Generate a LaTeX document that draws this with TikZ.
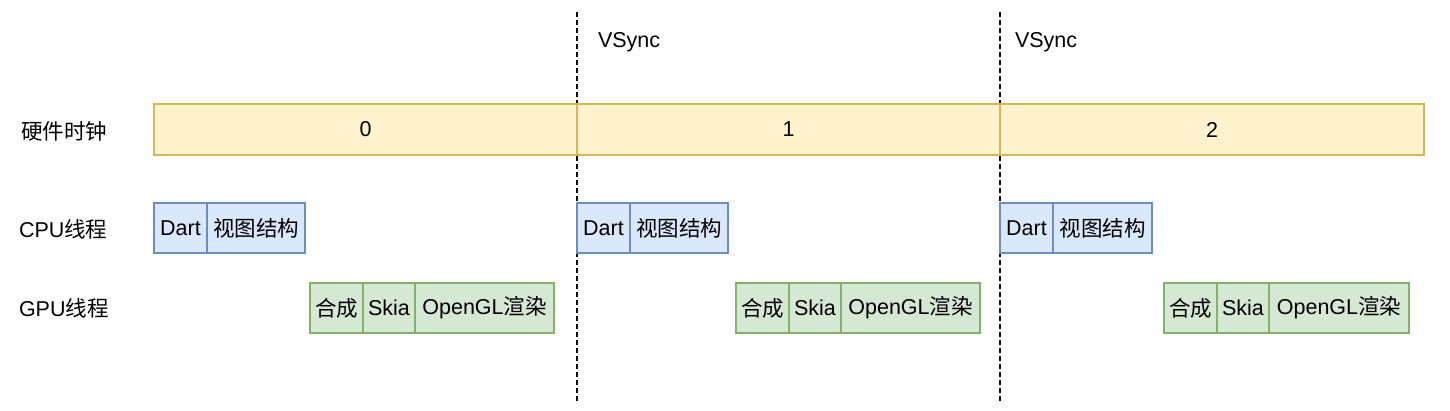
\documentclass[tikz,border=0pt]{standalone}
\usepackage{fontspec}
\setmainfont{Liberation Sans}
\newfontfamily\cjk{Noto Sans CJK SC}
\definecolor{yfill}{HTML}{FFF2CC}
\definecolor{ydraw}{HTML}{D6B656}
\definecolor{bfill}{HTML}{DAE8FC}
\definecolor{bdraw}{HTML}{6C8EBF}
\definecolor{gfill}{HTML}{D5E8D4}
\definecolor{gdraw}{HTML}{82B366}
\begin{document}
\begin{tikzpicture}[x=1pt,y=-1pt,
  every node/.style={font=\fontsize{21.5}{24}\selectfont, inner sep=0pt, outer sep=0pt},
  cell/.style={draw, line width=1.5pt, anchor=north west},
  clockcell/.style={cell, fill=yfill, draw=ydraw, minimum height=51pt},
  cpucell/.style={cell, fill=bfill, draw=bdraw, minimum height=50pt},
  gpucell/.style={cell, fill=gfill, draw=gdraw, minimum height=50pt},
  vline/.style={line width=1.3pt, dash pattern=on 4.5pt off 3.5pt},
  rowlabel/.style={anchor=west}]
\useasboundingbox (0,0) rectangle (1450,410);

% vsync dashed lines
\coordinate (v1t) at (577,12);
\coordinate (v1b) at (577,404);
\coordinate (v2t) at (1000,12);
\coordinate (v2b) at (1000,404);
\draw[vline] (v1t) -- (v1b);
\draw[vline] (v2t) -- (v2b);
\node[anchor=west] (vs1) at (598,42) {VSync};
\node[anchor=west] (vs2) at (1015,42) {VSync};

% row labels
\node[rowlabel] (lclk) at (21,131) {\cjk 硬件时钟};
\node[rowlabel] (lcpu) at (19,229) {CPU{\cjk 线程}};
\node[rowlabel] (lgpu) at (19,308) {GPU{\cjk 线程}};

% hardware clock
\node[clockcell, minimum width=423pt] (c0) at (154,104) {0};
\node[clockcell, minimum width=423pt] (c1) at (577,104) {1};
\node[clockcell, minimum width=424pt] (c2) at (1000,104) {2};

% CPU thread
\node[cpucell, minimum width=53pt] (d0) at (154,203) {Dart};
\node[cpucell, minimum width=98pt] (s0) at (207,203) {\cjk 视图结构};
\node[cpucell, minimum width=53pt] (d1) at (577,203) {Dart};
\node[cpucell, minimum width=98pt] (s1) at (630,203) {\cjk 视图结构};
\node[cpucell, minimum width=53pt] (d2) at (1000,203) {Dart};
\node[cpucell, minimum width=99pt] (s2) at (1053,203) {\cjk 视图结构};

% GPU thread
\node[gpucell, minimum width=53pt] (h0) at (310,283) {\cjk 合成};
\node[gpucell, minimum width=52pt] (k0) at (363,283) {Skia};
\node[gpucell, minimum width=139pt] (o0) at (415,283) {OpenGL{\cjk 渲染}};
\node[gpucell, minimum width=53pt] (h1) at (736,283) {\cjk 合成};
\node[gpucell, minimum width=52pt] (k1) at (789,283) {Skia};
\node[gpucell, minimum width=139pt] (o1) at (841,283) {OpenGL{\cjk 渲染}};
\node[gpucell, minimum width=53pt] (h2) at (1164,283) {\cjk 合成};
\node[gpucell, minimum width=52pt] (k2) at (1217,283) {Skia};
\node[gpucell, minimum width=140pt] (o2) at (1269,283) {OpenGL{\cjk 渲染}};
\end{tikzpicture}
\end{document}
